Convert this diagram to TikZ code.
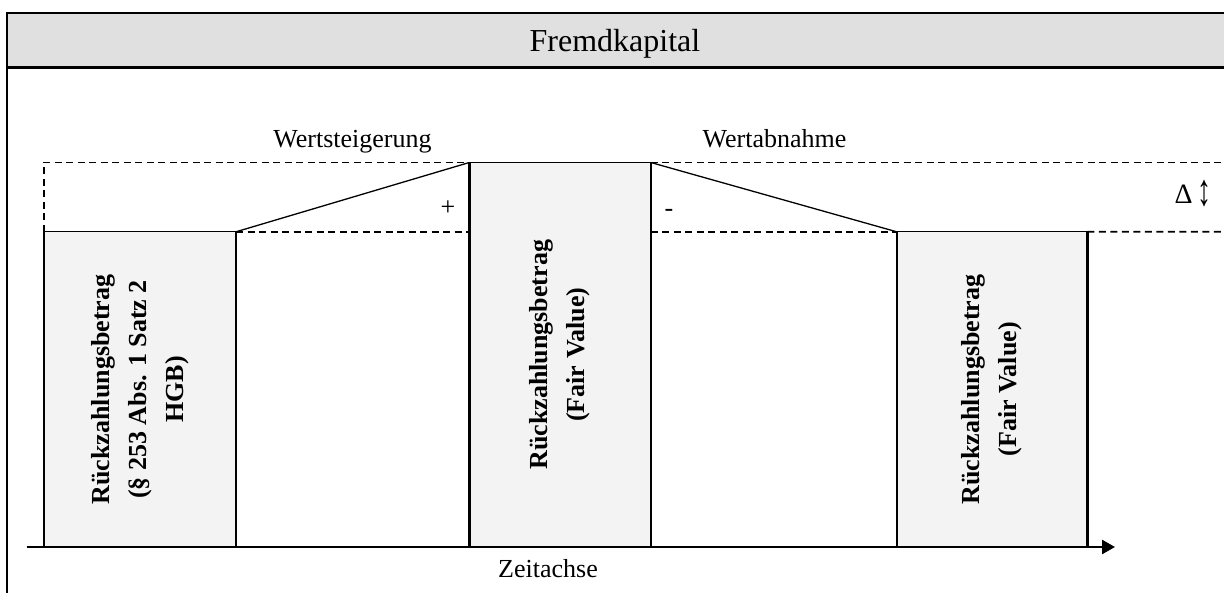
\documentclass[tikz,border=0pt]{standalone}
\usepackage{fontspec}
\usepackage{graphicx}
\setmainfont{Liberation Serif}
\usetikzlibrary{arrows.meta}
\definecolor{headgray}{HTML}{E0E0E0}
\definecolor{boxgray}{HTML}{F3F3F3}
\begin{document}
\begin{tikzpicture}[x=1pt,y=-1pt,
  frameline/.style={line width=2.4pt},
  dashline/.style={line width=1.9pt, dash pattern=on 7pt off 4.5pt},
  valbox/.style={draw, fill=boxgray, line width=1.3pt, inner sep=0pt, outer sep=0pt, anchor=south west},
  sideline/.style={line width=2.4pt},
  slant/.style={line width=1.3pt},
  vtext/.style={rotate=90, align=center, inner sep=0pt, font=\fontsize{26}{37}\selectfont\bfseries},
  lbl/.style={anchor=base, inner sep=0pt, font=\fontsize{26}{30}\selectfont},
  axisline/.style={line width=2.6pt, -{Triangle[length=13pt,width=14pt]}}
]
\useasboundingbox (0,0) rectangle (1224,593);
\clip (0,0) rectangle (1224,593);

% frame and header
\fill[headgray] (6.7,13.3) rectangle (1240,67.7);
\draw[frameline] (1240,13.3) -- (6.7,13.3) -- (6.7,620);
\draw[frameline] (6.7,67.7) -- (1240,67.7);
\node[anchor=base, inner sep=0pt, font=\fontsize{32}{38}\selectfont] (title) at (615,52) {Fremdkapital};

% boxes
\node[valbox, minimum width=192.3pt, minimum height=315.2pt] (b1) at (43.7,547) {};
\node[valbox, minimum width=181.5pt, minimum height=384.5pt] (b2) at (469.3,547) {};
\node[valbox, minimum width=190.6pt, minimum height=315.2pt] (b3) at (896.7,547) {};
\foreach \b in {b1,b2,b3} {
  \draw[sideline] (\b.south west) -- (\b.north west);
  \draw[sideline] (\b.south east) -- (\b.north east);
}

% dashed guide lines
\coordinate (rtop) at (1230,162.5);
\coordinate (rlow) at (1230,231.8);
\draw[dashline] (b1.north west) -- (b1.north west |- b2.north) -- (b2.north west);
\draw[dashline] (b2.north east) -- (rtop);
\draw[dashline] (b1.north east) -- (b2.north west |- b1.north);
\draw[dashline] (b2.north east |- b3.north) -- (b3.north west);
\draw[dashline] (b3.north east) -- (rlow);

% slanted lines
\draw[slant] (b1.north east) -- (b2.north west);
\draw[slant] (b2.north east) -- (b3.north west);

% box texts
\node[vtext] (t1) at (b1.center) {Rückzahlungsbetrag\\(§ 253 Abs. 1 Satz 2\\HGB)};
\node[vtext] (t2) at (b2.center) {Rückzahlungsbetrag\\(Fair Value)};
\node[vtext] (t3) at (b3.center) {Rückzahlungsbetrag\\(Fair Value)};

% labels
\node[lbl] (inc) at (352.5,148) {Wertsteigerung};
\node[lbl] (dec) at (774.5,148) {Wertabnahme};
\node[lbl] (plus) at (448,216) {+};
\node[lbl] (minus) at (669,217) {-};
\node[lbl, font=\fontsize{28}{30}\selectfont] (delta) at (1193,204) {Δ\,\raisebox{-2pt}{\scalebox{1}[1.6]{↕}}};

% time axis
\coordinate (axstart) at (26.5,547);
\coordinate (axend) at (1115,547);
\draw[axisline] (axstart) -- (axend);
\node[lbl] (axlabel) at (548,577) {Zeitachse};
\end{tikzpicture}
\end{document}
